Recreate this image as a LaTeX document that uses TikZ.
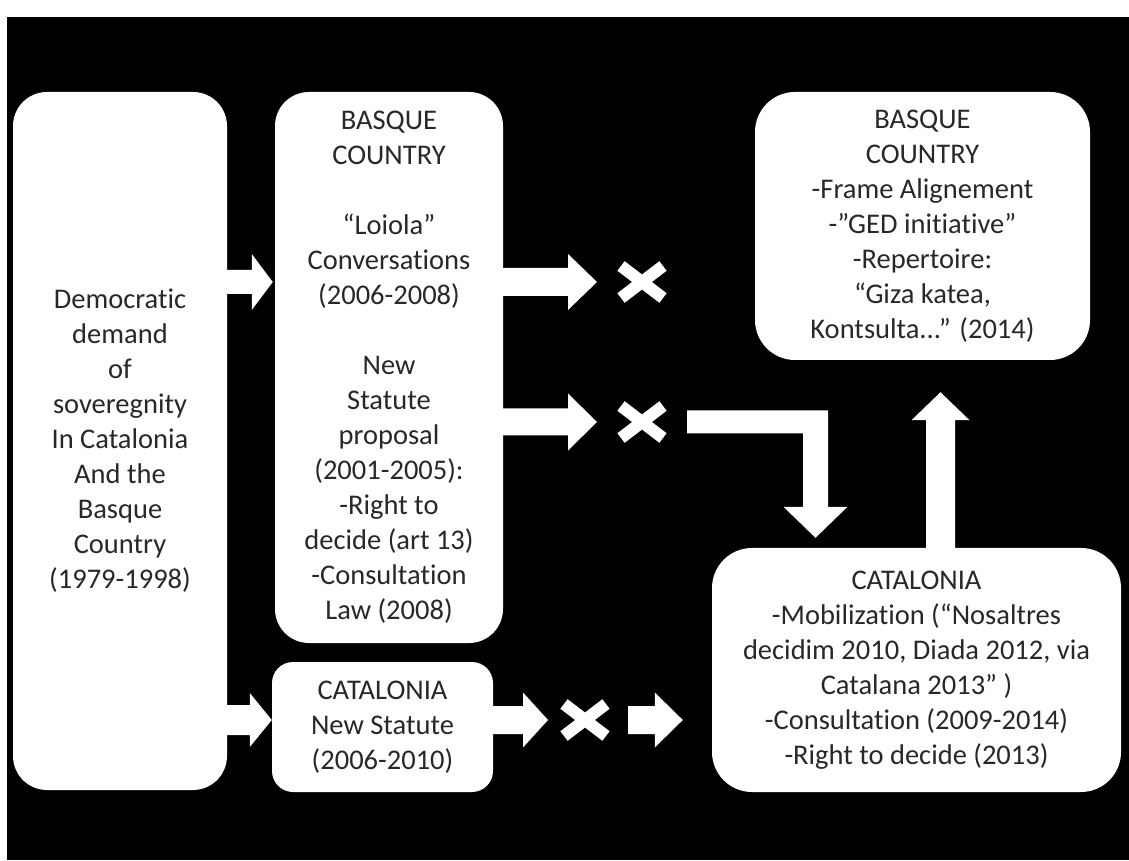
\documentclass[tikz,border=0pt]{standalone}
\usepackage{fontspec}
\setmainfont{Carlito}[Ligatures=NoCommon]
\usetikzlibrary{calc}
\definecolor{txt}{RGB}{40,40,40}
% horizontal block arrow: start, tip, shaft half-height, head half-height, head length
\newcommand{\harrow}[5]{%
  \fill[white] let \p1=(#1), \p2=(#2) in
    (\x1,\y1+#3) -- (\x2-#5,\y1+#3) -- (\x2-#5,\y1+#4) -- (\x2,\y1)
    -- (\x2-#5,\y1-#4) -- (\x2-#5,\y1-#3) -- (\x1,\y1-#3) -- cycle;}
% cross mark
\newcommand{\crossmark}[1]{%
  \draw[white, line width=12pt, line cap=butt] ($(#1)+(-21,-16)$) -- ($(#1)+(21,16)$);
  \draw[white, line width=12pt, line cap=butt] ($(#1)+(-21,16)$) -- ($(#1)+(21,-16)$);}
\tikzset{
  box/.style={fill=white, draw=none, align=center, text=txt, inner sep=0pt,
    font=\fontsize{28.5}{35}\selectfont},
}
\begin{document}
\begin{tikzpicture}[x=1pt,y=1pt]
\useasboundingbox (0,0) rectangle (1129,860);
\fill[white] (0,0) rectangle (1129,860);
\fill[black] (7,0) rectangle (1129,843);

% boxes
\node[box, minimum width=214pt, minimum height=698pt, rounded corners=34pt] (A) at (120,419)
  {Democratic\\demand\\of\\soveregnity\\In Catalonia\\And the\\Basque\\Country\\(1979-1998)};
\node[box, minimum width=228pt, minimum height=551pt, rounded corners=34pt] (B) at (389,492.5)
  {BASQUE\\COUNTRY\\[35pt]“Loiola”\\Conversations\\(2006-2008)\\[35pt]New\\Statute\\proposal\\(2001-2005):\\-Right to\\decide (art 13)\\-Consultation\\Law (2008)};
\node[box, minimum width=221pt, minimum height=130pt, rounded corners=21pt] (C) at (382.5,133)
  {CATALONIA\\New Statute\\(2006-2010)};
\node[box, minimum width=335pt, minimum height=268pt, rounded corners=40pt] (D) at (922.5,634)
  {BASQUE\\COUNTRY\\-Frame Alignement\\-”GED initiative”\\-Repertoire:\\“Giza katea,\\Kontsulta...” (2014)};
\node[box, minimum width=409pt, minimum height=244pt, rounded corners=40pt] (E) at (916.5,190)
  {CATALONIA\\-Mobilization (“Nosaltres\\decidim 2010, Diada 2012, via\\Catalana 2013” )\\-Consultation (2009-2014)\\-Right to decide (2013)};

% cross marks
\coordinate (X1) at (642,578);
\coordinate (X2) at (642,438);
\coordinate (X3) at (585,140);
\crossmark{X1}
\crossmark{X2}
\crossmark{X3}

% arrows
\harrow{A.east |- X1}{$(B.west |- X1)+(-2,0)$}{12pt}{28pt}{21pt}
\harrow{A.east |- X3}{C.west |- X3}{15pt}{27pt}{22pt}
\harrow{B.east |- X1}{$(X1)+(-45,0)$}{14pt}{28pt}{29pt}
\harrow{B.east |- X2}{$(X2)+(-45,0)$}{13.5pt}{28.5pt}{29pt}
\harrow{C.east |- X3}{$(X3)+(-37,0)$}{14pt}{27.5pt}{25pt}
\harrow{$(X3)+(43,0)$}{$(E.west |- X3)+(-29,0)$}{14pt}{27.5pt}{28pt}

% elbow arrow from the second cross down to Catalonia
\coordinate (elbowstart) at ($(X2)+(45,0)$);
\coordinate (elbowtip) at ($(E.north)+(-101,10)$);
\fill[white] let \p1=(elbowstart), \p2=(elbowtip) in
  (\x1,\y1+11.5pt) -- (\x2+12.5pt,\y1+11.5pt) -- (\x2+12.5pt,\y2+31pt)
  -- (\x2+32pt,\y2+31pt) -- (\x2,\y2) -- (\x2-32pt,\y2+31pt)
  -- (\x2-12.5pt,\y2+31pt) -- (\x2-12.5pt,\y1-11.5pt) -- (\x1,\y1-11.5pt) -- cycle;

% up arrow from Catalonia to Basque Country
\coordinate (upstart) at ($(E.north)+(24,0)$);
\coordinate (uptip) at ($(upstart |- D.south)+(0,-32)$);
\fill[white] let \p1=(upstart), \p2=(uptip) in
  (\x1-14.5pt,\y1) -- (\x1-14.5pt,\y2-28pt) -- (\x1-29pt,\y2-28pt) -- (\x2,\y2)
  -- (\x1+29pt,\y2-28pt) -- (\x1+14.5pt,\y2-28pt) -- (\x1+14.5pt,\y1) -- cycle;
\end{tikzpicture}
\end{document}
